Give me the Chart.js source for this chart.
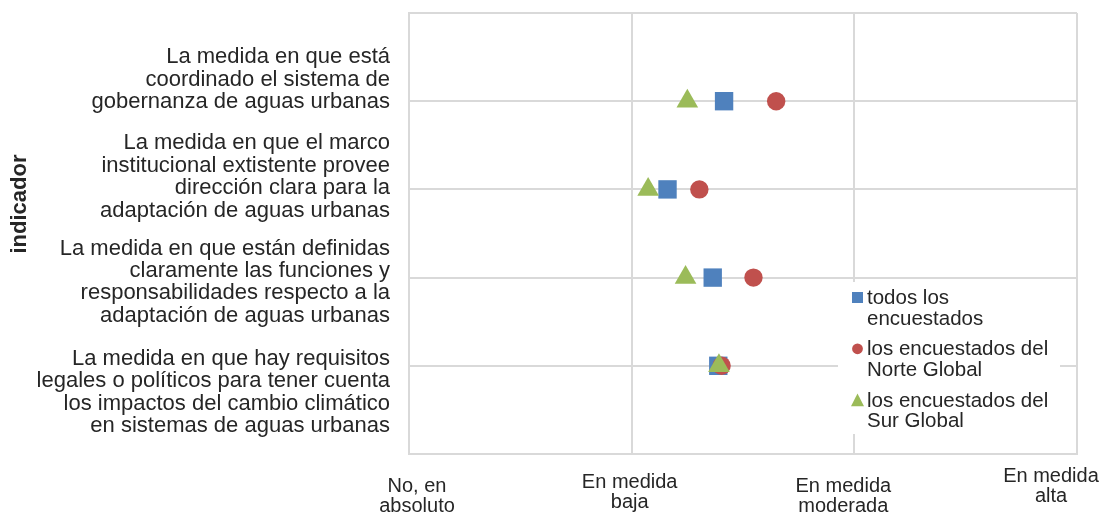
<!DOCTYPE html>
<html>
<head>
<meta charset="utf-8">
<script src="https://cdn.jsdelivr.net/npm/chart.js@4.4.1/dist/chart.umd.min.js"></script>
<style>
    body { margin:0; background:#fff; }
    #wrap { width:1103px; height:513px; position:relative; }
</style>
</head>
<body>
<div id="wrap"><canvas id="canvIndicadores"></canvas></div>
<script>
// indicators, top to bottom (each one split in lines as in the original)
const arrIndicadores = [
    ['La medida en que está', 'coordinado el sistema de', 'gobernanza de aguas urbanas'],
    ['La medida en que el marco', 'institucional extistente provee', 'dirección clara para la', 'adaptación de aguas urbanas'],
    ['La medida en que están definidas', 'claramente las funciones y', 'responsabilidades respecto a la', 'adaptación de aguas urbanas'],
    ['La medida en que hay requisitos', 'legales o políticos para tener cuenta', 'los impactos del cambio climático', 'en sistemas de aguas urbanas']
];
// place of each indicator on the vertical axis
const arrPosicion = [4, 3, 2, 1];

// series values (0 = no, en absoluto ... 3 = en medida alta)
const arrTodos = [1.415, 1.161, 1.364, 1.389];
const arrNorte = [1.649, 1.304, 1.547, 1.404];
const arrSur   = [1.250, 1.074, 1.242, 1.392];

// tick labels of the value axis
const arrEscala = [['No, en', 'absoluto'], ['En medida', 'baja'], ['En medida', 'moderada'], ['En medida', 'alta']];

// legend names
const arrSeries = [['todos los', 'encuestados'], ['los encuestados del', 'Norte Global'], ['los encuestados del', 'Sur Global']];
const arrColores = ['#4f81bd', '#c0504d', '#9bbb59'];
const arrFormas = ['rect', 'circle', 'triangle'];

const FONT = '"Liberation Sans", Arial, Helvetica, sans-serif';

const toPoints = (arrX) => arrX.map((x, i) => ({x: x, y: arrPosicion[i]}));

// draws a small marker for the legend
function drawMarker(ctx, shape, x, y, r) {
    ctx.beginPath();
    if (shape === 'rect') {
        ctx.rect(x - r, y - r, 2 * r, 2 * r);
    } else if (shape === 'circle') {
        ctx.arc(x, y, r, 0, Math.PI * 2);
    } else {
        ctx.moveTo(x, y - r);
        ctx.lineTo(x + r, y + r * 0.95);
        ctx.lineTo(x - r, y + r * 0.95);
        ctx.closePath();
    }
    ctx.fill();
}

// all the text of the chart: indicator names, scale labels, axis title, legend
const textPlugin = {
    id: 'textPlugin',
    afterDraw(chart) {
        const ctx = chart.ctx;
        const xs = chart.scales.x;
        const ys = chart.scales.y;
        ctx.save();
        ctx.fillStyle = '#262626';

        // indicator names, right aligned left of the plot
        ctx.font = '22px ' + FONT;
        ctx.textAlign = 'right';
        ctx.textBaseline = 'middle';
        const catTop = [-44, -46, -29, -7];
        arrIndicadores.forEach((lines, i) => {
            const y0 = ys.getPixelForValue(arrPosicion[i]) + catTop[i];
            lines.forEach((s, j) => ctx.fillText(s, chart.chartArea.left - 19, y0 + j * 22.4));
        });

        // value axis labels
        ctx.font = '20px ' + FONT;
        ctx.textAlign = 'center';
        ctx.textBaseline = 'alphabetic';
        const dx = [8, -2, -11, -26];
        const base = [492, 488, 492, 482];
        arrEscala.forEach((lines, i) => {
            const x = xs.getPixelForValue(i) + dx[i];
            lines.forEach((s, j) => ctx.fillText(s, x, base[i] + j * 20.3));
        });

        // axis title
        ctx.save();
        ctx.translate(26, 204);
        ctx.rotate(-Math.PI / 2);
        ctx.font = 'bold 22px ' + FONT;
        ctx.textAlign = 'center';
        ctx.fillText('indicador', 0, 0);
        ctx.restore();

        // legend
        const lx = chart.chartArea.right - 239;
        ctx.fillStyle = '#ffffff';
        ctx.fillRect(lx, 282, 222, 152);
        ctx.font = '20.5px ' + FONT;
        ctx.textAlign = 'left';
        const sizes = [5.5, 5.4, 6.5];
        arrSeries.forEach((lines, i) => {
            const yb = 304 + i * 51.3;
            ctx.fillStyle = arrColores[i];
            drawMarker(ctx, arrFormas[i], lx + 19.5, yb - 6.5, sizes[i]);
            ctx.fillStyle = '#262626';
            lines.forEach((s, j) => ctx.fillText(s, lx + 29, yb + j * 20.5));
        });
        ctx.restore();
    }
};

const axisStyle = {
    type: 'linear',
    ticks: {display: false, stepSize: 1},
    grid: {color: '#d9d9d9', lineWidth: 2, drawTicks: false},
    border: {display: true, color: '#d9d9d9', width: 2}
};

const chartIndicadores = new Chart(document.getElementById('canvIndicadores'), {
    type: 'scatter',
    data: {
        datasets: [
            {label: 'todos los encuestados', data: toPoints(arrTodos), pointStyle: 'rect', pointRadius: 13, pointHoverRadius: 13, backgroundColor: arrColores[0], borderWidth: 0, order: 3},
            {label: 'los encuestados del Norte Global', data: toPoints(arrNorte), pointStyle: 'circle', pointRadius: 9.2, pointHoverRadius: 9.2, backgroundColor: arrColores[1], borderWidth: 0, order: 2},
            {label: 'los encuestados del Sur Global', data: toPoints(arrSur), pointStyle: 'triangle', pointRadius: 12.5, pointHoverRadius: 12.5, backgroundColor: arrColores[2], borderWidth: 0, order: 1}
        ]
    },
    options: {
        responsive: true,
        maintainAspectRatio: false,
        animation: false,
        layout: {padding: {left: 409, right: 26, top: 12, bottom: 59}},
        plugins: {legend: {display: false}, tooltip: {enabled: false}},
        scales: {
            x: Object.assign({}, axisStyle, {min: 0, max: 3}),
            y: Object.assign({}, axisStyle, {min: 0, max: 5})
        }
    },
    plugins: [textPlugin]
});
</script>
</body>
</html>
